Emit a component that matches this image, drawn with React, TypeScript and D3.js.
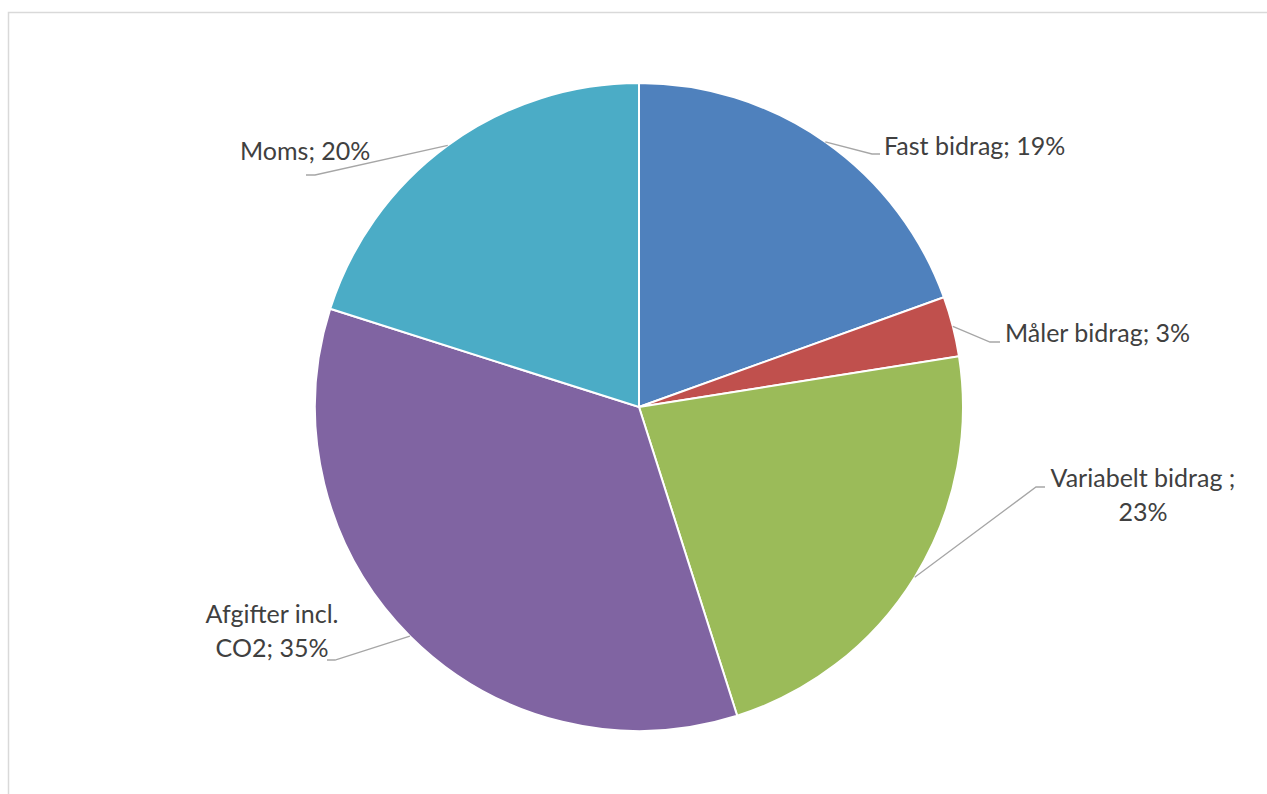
import React, { useEffect, useRef } from 'react';
import * as d3 from 'd3';

// Slice data, clockwise from 12 o'clock
const categories = ['Fast bidrag', 'Måler bidrag', 'Variabelt bidrag', 'Afgifter incl. CO2', 'Moms'];
const shares = [19.5, 3.0, 22.6, 34.8, 20.1];
const labelLines = [
  ['Fast bidrag; 19%'],
  ['Måler bidrag; 3%'],
  ['Variabelt bidrag ;', '23%'],
  ['Afgifter incl.', 'CO2; 35%'],
  ['Moms; 20%'],
];
const COLORS = ['#4f81bd', '#c0504d', '#9bbb59', '#8064a2', '#4bacc6'];

// Label layout: elbow point, end of horizontal tick, text anchor point
const LAYOUT = [
  { elbow: [872, 154], end: [880, 154], text: [884, 155], anchor: 'start' },
  { elbow: [990, 342], end: [1000, 342], text: [1005, 342], anchor: 'start' },
  { elbow: [1036, 487], end: [1045, 487], text: [1143, 487], anchor: 'middle' },
  { elbow: [335, 660], end: [327, 660], text: [272, 623], anchor: 'middle' },
  { elbow: [315, 175], end: [306, 175], text: [240, 160], anchor: 'start' },
];

const W = 1267;
const H = 794;

export default function App() {
  const svgRef = useRef<SVGSVGElement>(null);

  useEffect(() => {
    if (!svgRef.current) return;
    const svg = d3.select(svgRef.current);
    svg.selectAll('*').remove();

    svg.append('rect').attr('width', W).attr('height', H).attr('fill', '#fff');

    // Chart area frame (runs off the right and bottom edges)
    svg.append('rect')
      .attr('x', 8.5).attr('y', 12.5)
      .attr('width', W).attr('height', H)
      .attr('fill', 'none')
      .attr('stroke', '#d9d9d9')
      .attr('stroke-width', 1.5);

    const cx = 639;
    const cy = 407;
    const radius = 324;

    const pie = d3.pie<number>().sort(null).value(d => d);
    const arcs = pie(shares);
    const arc = d3.arc<d3.PieArcDatum<number>>().innerRadius(0).outerRadius(radius);

    const g = svg.append('g').attr('transform', `translate(${cx},${cy})`);

    g.selectAll('path.slice')
      .data(arcs)
      .enter()
      .append('path')
      .attr('class', 'slice')
      .attr('d', arc)
      .attr('fill', (d, i) => COLORS[i])
      .attr('stroke', '#fff')
      .attr('stroke-width', 2);

    // Leader lines + labels
    arcs.forEach((d, i) => {
      const mid = (d.startAngle + d.endAngle) / 2;
      const sx = cx + radius * Math.sin(mid);
      const sy = cy - radius * Math.cos(mid);
      const lay = LAYOUT[i];

      svg.append('polyline')
        .attr('points', `${sx},${sy} ${lay.elbow[0]},${lay.elbow[1]} ${lay.end[0]},${lay.end[1]}`)
        .attr('fill', 'none')
        .attr('stroke', '#a6a6a6')
        .attr('stroke-width', 1.3);

      const t = svg.append('text')
        .attr('x', lay.text[0])
        .attr('y', lay.text[1])
        .attr('text-anchor', lay.anchor)
        .attr('font-family', 'Lato, "Open Sans", sans-serif')
        .attr('font-size', 25)
        .attr('fill', '#404040');

      labelLines[i].forEach((line, j) => {
        t.append('tspan')
          .attr('x', lay.text[0])
          .attr('dy', j === 0 ? 0 : 34)
          .text(line);
      });
    });
  }, []);

  return (
    <div style={{ position: 'absolute', left: 0, top: 0 }}>
      <svg ref={svgRef} width={W} height={H} aria-label={categories.join(', ')} />
    </div>
  );
}
